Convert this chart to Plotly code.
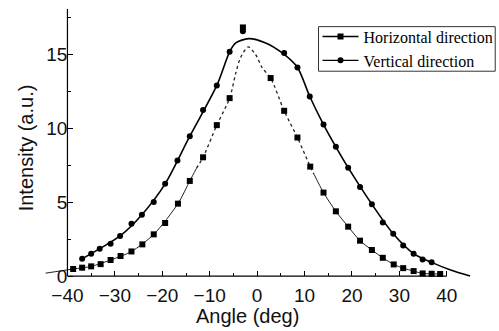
import plotly.graph_objects as go

# ---- data ----
angle_v = [-36.9, -35.0, -33.2, -30.9, -28.9, -26.5, -24.3, -21.8, -19.4, -16.8, -14.2, -11.4, -8.5, -5.8, -3.0,
           5.7, 8.5, 11.1, 14.0, 16.6, 19.2, 21.7, 24.2, 26.5, 28.7, 30.8, 33.0, 34.9, 36.8]
int_v = [1.17, 1.51, 1.86, 2.19, 2.72, 3.55, 4.16, 5.02, 6.25, 7.83, 9.48, 11.25, 12.92, 15.2, 16.6,
         15.12, 14.14, 12.17, 10.27, 8.76, 7.35, 6.04, 4.87, 3.64, 2.87, 2.08, 1.52, 1.13, 0.93]

angle_h = [-38.8, -36.9, -35.0, -33.0, -30.9, -28.8, -26.5, -24.2, -21.8, -19.4, -16.7, -14.2, -11.4, -8.5, -5.8, -3.0,
           2.85, 5.7, 8.5, 11.2, 14.0, 16.6, 19.2, 21.7, 24.2, 26.5, 28.8, 30.8, 33.0, 34.9, 36.8, 38.6]
int_h = [0.48, 0.57, 0.66, 0.81, 1.09, 1.36, 1.67, 2.15, 2.83, 3.6, 4.91, 6.45, 8.05, 10.23, 12.06, 16.85,
         13.42, 11.2, 9.39, 7.42, 5.66, 4.39, 3.35, 2.4, 1.77, 1.24, 0.79, 0.54, 0.34, 0.18, 0.16, 0.14]

# fitted curves
fit_v_x = [-36.9, -33.2, -28.9, -24.3, -19.4, -14.2, -8.5, -5.8, -4.5, -1.8, 1.8, 5.3, 8.5, 11.1, 14.0,
           16.6, 19.2, 24.2, 28.7, 33.0, 36.8, 40.8, 44.9]
fit_v_y = [1.17, 1.86, 2.72, 4.16, 6.25, 9.48, 12.92, 15.2, 15.8, 16.09, 15.8, 15.12, 14.14, 12.17, 10.27,
           8.76, 7.35, 4.87, 2.87, 1.52, 0.93, 0.41, 0.0]

fit_h_left_x = [-44.6, -38.8, -35.0, -30.9, -26.5, -21.8, -16.7, -14.2, -12.8]
fit_h_left_y = [0.2, 0.48, 0.66, 1.09, 1.67, 2.83, 4.91, 6.45, 7.3]
fit_h_mid_x = [-12.8, -11.4, -8.5, -5.8, -4.5, -3.5, -1.9, -0.3, 1.1, 2.85, 5.7, 8.5, 11.2, 12.0]
fit_h_mid_y = [7.3, 8.05, 10.23, 12.06, 13.76, 14.8, 15.53, 15.0, 14.1, 13.42, 11.2, 9.39, 7.42, 6.9]
fit_h_right_x = [12.0, 14.0, 16.6, 19.2, 21.7, 24.2, 26.5, 28.8, 30.8, 33.0, 34.9, 36.8, 38.6]
fit_h_right_y = [6.9, 5.66, 4.39, 3.35, 2.4, 1.77, 1.24, 0.79, 0.54, 0.34, 0.18, 0.16, 0.14]

x_ticks = [-40, -30, -20, -10, 0, 10, 20, 30, 40]
x_minor = [-35, -25, -15, -5, 5, 15, 25, 35]
y_ticks = [0, 5, 10, 15]
y_minor = [2.5, 7.5, 12.5, 17.5]

XR = [-46, 47]
YR = [-0.4, 18.1]
ML, MR, MT, MB = 38.5, 18.75, 9.4, 49.1
PW = 499 - ML - MR
PH = 331 - MT - MB


def px_x(p):
    return (p - ML) / PW


def px_y(p):
    return (331 - MB - p) / PH


fig = go.Figure()

fig.add_trace(go.Scatter(x=fit_v_x, y=fit_v_y, mode="lines", line=dict(color="black", width=1.6, shape="spline", smoothing=0.8),
                         showlegend=False, hoverinfo="skip"))
fig.add_trace(go.Scatter(x=fit_h_left_x, y=fit_h_left_y, mode="lines", line=dict(color="#222", width=1.0, shape="spline", smoothing=0.8),
                         showlegend=False, hoverinfo="skip"))
fig.add_trace(go.Scatter(x=fit_h_mid_x, y=fit_h_mid_y, mode="lines", line=dict(color="#222", width=1.3, dash="dot", shape="spline", smoothing=0.8),
                         showlegend=False, hoverinfo="skip"))
fig.add_trace(go.Scatter(x=fit_h_right_x, y=fit_h_right_y, mode="lines", line=dict(color="#222", width=1.0, shape="spline", smoothing=0.8),
                         showlegend=False, hoverinfo="skip"))

fig.add_trace(go.Scatter(x=angle_v, y=int_v, mode="markers", marker=dict(symbol="circle", size=6, color="black"),
                         showlegend=False, cliponaxis=False))
fig.add_trace(go.Scatter(x=angle_h, y=int_h, mode="markers", marker=dict(symbol="square", size=6, color="black"),
                         showlegend=False, cliponaxis=False))

# legend entries
fig.add_trace(go.Scatter(x=[None], y=[None], mode="lines+markers", name="Horizontal direction",
                         line=dict(color="black", width=1.3), marker=dict(symbol="square", size=6, color="black")))
fig.add_trace(go.Scatter(x=[None], y=[None], mode="lines+markers", name="Vertical direction",
                         line=dict(color="black", width=1.3), marker=dict(symbol="circle", size=6, color="black")))

# axis lines
fig.add_shape(type="line", xref="x", yref="y", x0=-40, x1=40, y0=0, y1=0, line=dict(color="black", width=1.2))
fig.add_shape(type="line", xref="x", yref="y", x0=-40, x1=-40, y0=0, y1=YR[1], line=dict(color="black", width=1.2))
# legend frame
fig.add_shape(type="rect", xref="paper", yref="paper", x0=px_x(318.5), x1=px_x(495.5), y0=px_y(71.5), y1=px_y(27),
              line=dict(color="#333", width=1), fillcolor="rgba(0,0,0,0)")

tickfont = dict(family="Liberation Sans, Arial, sans-serif", size=19, color="#111")

fig.update_layout(
    width=499, height=331,
    margin=dict(l=ML, r=MR, t=MT, b=MB, autoexpand=False),
    plot_bgcolor="white", paper_bgcolor="white",
    xaxis=dict(range=XR, tickmode="array", tickvals=x_ticks, ticks="inside", ticklen=5, tickwidth=1, tickcolor="black",
               showgrid=False, zeroline=False, showline=False, anchor="free", tickangle=0, automargin=False,
               position=(0 - YR[0]) / (YR[1] - YR[0]), tickfont=tickfont, ticklabelstandoff=6,
               minor=dict(tickmode="array", tickvals=x_minor, ticks="inside", ticklen=3, tickcolor="black")),
    yaxis=dict(range=YR, tickmode="array", tickvals=y_ticks, ticks="inside", ticklen=5, tickwidth=1, tickcolor="black",
               showgrid=False, zeroline=False, showline=False, anchor="free", automargin=False,
               position=(-40 - XR[0]) / (XR[1] - XR[0]), tickfont=tickfont,
               minor=dict(tickmode="array", tickvals=y_minor, ticks="inside", ticklen=3, tickcolor="black")),
    legend=dict(x=px_x(317.5), y=px_y(20), xanchor="left", yanchor="top",
                borderwidth=0, bgcolor="rgba(0,0,0,0)",
                font=dict(family="Liberation Serif, Times New Roman, serif", size=16, color="black"),
                itemwidth=36, tracegroupgap=0),
    showlegend=True,
)

fig.add_annotation(text="Angle (deg)", xref="paper", yref="paper", x=px_x(247), y=0, yanchor="bottom",
                   yshift=-47, showarrow=False, font=dict(family="Liberation Sans, Arial, sans-serif", size=20, color="#111"))
fig.add_annotation(text="Intensity (a.u.)", xref="paper", yref="paper", x=0, y=px_y(148), xanchor="center",
                   xshift=-13.5, textangle=-90, showarrow=False,
                   font=dict(family="Liberation Sans, Arial, sans-serif", size=20, color="#111"))

fig.write_html("out.html")
